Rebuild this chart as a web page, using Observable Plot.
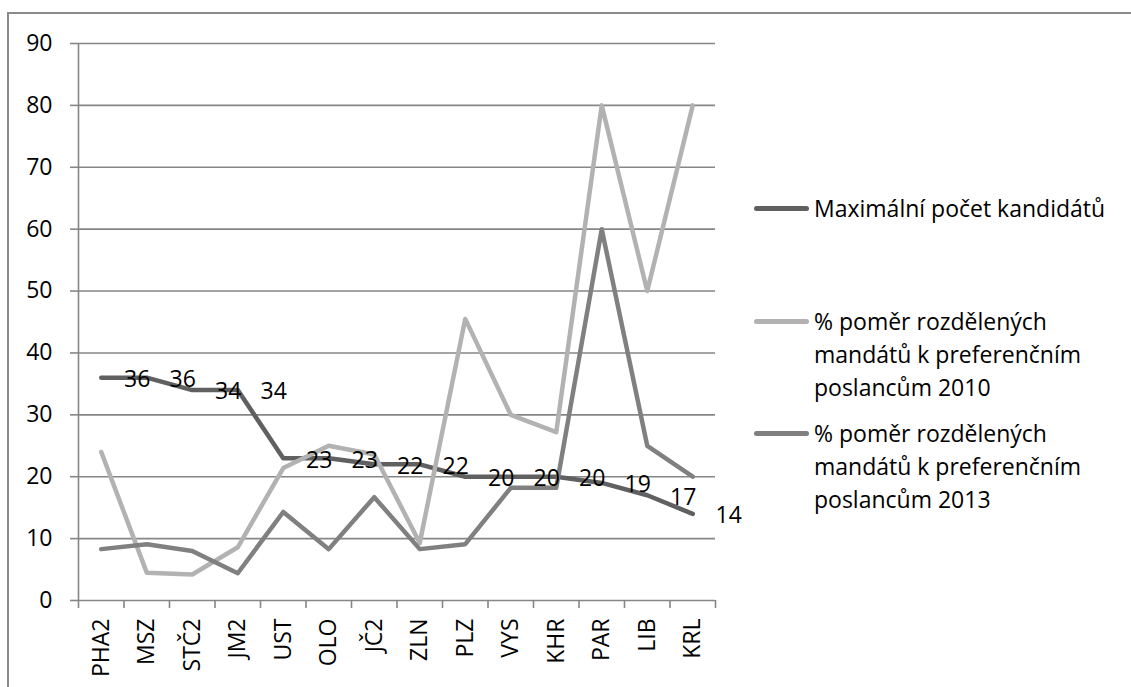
<!DOCTYPE html>
<html>
<head>
<meta charset="utf-8">
<script src="https://cdn.jsdelivr.net/npm/d3@7"></script>
<script src="https://cdn.jsdelivr.net/npm/@observablehq/plot@0.6"></script>
<style>
  html, body { margin: 0; padding: 0; background: #fff; }
  body { width: 1131px; height: 687px; overflow: hidden; position: relative; font-family: "Open Sans", sans-serif; }
  #frame { position: absolute; left: 7px; top: 12px; width: 1200px; height: 720px; border: 2px solid #8a8a8a; box-sizing: border-box; }
  #chart { position: absolute; left: 0; top: 0; }
  #legend { position: absolute; left: 754px; top: 0; }
  .item { position: absolute; left: 0; display: flex; align-items: flex-start; }
  .sw { width: 55px; height: 5px; border-radius: 3px; margin-top: 14px; flex: none; }
  .lab { font-size: 23px; line-height: 33px; color: #000; width: 305px; margin-left: 5px; }
</style>
</head>
<body>
<div id="frame"></div>
<div id="chart"></div>
<div id="legend"></div>
<script>
const categories = ["PHA2", "MSZ", "STČ2", "JM2", "UST", "OLO", "JČ2", "ZLN", "PLZ", "VYS", "KHR", "PAR", "LIB", "KRL"];
const maxCandidates = [36, 36, 34, 34, 23, 23, 22, 22, 20, 20, 20, 19, 17, 14];
const ratio2010 = [24, 4.5, 4.2, 8.6, 21.4, 25, 23.6, 9.3, 45.5, 30, 27.2, 80, 50, 80];
const ratio2013 = [8.3, 9.1, 8, 4.4, 14.3, 8.3, 16.7, 8.3, 9.1, 18.2, 18.2, 60, 25, 20];
const seriesNames = [
  "Maximální počet kandidátů",
  "% poměr rozdělených mandátů k preferenčním poslancům 2010",
  "% poměr rozdělených mandátů k preferenčním poslancům 2013"
];
const seriesColors = ["#606060", "#b2b2b2", "#808080"];
const yTicks = [0, 10, 20, 30, 40, 50, 60, 70, 80, 90];

const seriesValues = [maxCandidates, ratio2010, ratio2013];
const rows = seriesValues.flatMap((vals, s) =>
  vals.map((v, i) => ({i, cat: categories[i], series: seriesNames[s], v}))
);
const labelRows = maxCandidates.map((v, i) => ({i, v}));
const idx = categories.map((_, i) => i);
const bounds = d3.range(categories.length + 1).map(i => i - 0.5);

const gridColor = "#868686";

const chart = Plot.plot({
  width: 760,
  height: 687,
  marginLeft: 78,
  marginRight: 45,
  marginTop: 43,
  marginBottom: 87,
  style: {fontFamily: "'Open Sans', sans-serif", fontSize: "23px", color: "#000", background: "transparent", overflow: "visible"},
  x: {type: "linear", domain: [bounds[0], bounds[bounds.length - 1]], axis: null},
  y: {domain: [0, 90], axis: null},
  color: {domain: seriesNames, range: seriesColors},
  marks: [
    Plot.ruleY(yTicks, {stroke: gridColor, strokeWidth: 1.6}),
    Plot.axisY(yTicks, {anchor: "left", label: null, tickSize: 8, tickPadding: 18, stroke: gridColor, strokeWidth: 1.6, strokeOpacity: 1, fontSize: 23, fill: "#000"}),
    Plot.ruleX([bounds[0]], {stroke: gridColor, strokeWidth: 1.6}),
    Plot.axisX(bounds, {anchor: "bottom", label: null, tickSize: 8, tickFormat: () => "", stroke: gridColor, strokeWidth: 1.6, strokeOpacity: 1}),
    Plot.axisX(idx, {anchor: "bottom", label: null, tickSize: 0, tickPadding: 18, tickRotate: -90, tickFormat: i => categories[i], fontSize: 23, fill: "#000"}),
    Plot.line(rows, {x: "i", y: "v", z: "series", stroke: "series", strokeWidth: 4.5, strokeLinecap: "round", strokeLinejoin: "round"}),
    Plot.text(labelRows, {x: "i", y: "v", text: d => String(d.v), dx: 36, dy: 2, fontSize: 23, fill: "#000"})
  ]
});
document.getElementById("chart").appendChild(chart);

const legendTops = [192, 305, 417];
const legend = document.getElementById("legend");
seriesNames.forEach((name, k) => {
  const item = document.createElement("div");
  item.className = "item";
  item.style.top = legendTops[k] + "px";
  const sw = document.createElement("div");
  sw.className = "sw";
  sw.style.background = seriesColors[k];
  const lab = document.createElement("div");
  lab.className = "lab";
  lab.textContent = name;
  item.appendChild(sw);
  item.appendChild(lab);
  legend.appendChild(item);
});
</script>
</body>
</html>
